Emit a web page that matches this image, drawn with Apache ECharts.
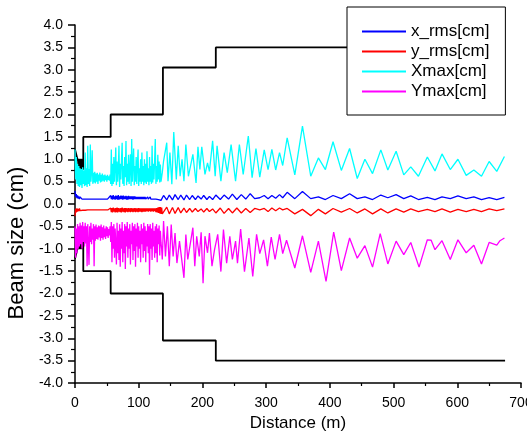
<!DOCTYPE html>
<html>
<head>
<meta charset="utf-8">
<script src="https://cdn.jsdelivr.net/npm/echarts@6/dist/echarts.min.js"></script>
<style>html,body{margin:0;padding:0;background:#fff;}#c{width:527px;height:438px;}</style>
</head>
<body>
<div id="c"></div>
<script>
// ---- data ----
const seriesNames = ['x_rms[cm]', 'y_rms[cm]', 'Xmax[cm]', 'Ymax[cm]'];
const xTicks = [0, 100, 200, 300, 400, 500, 600, 700];
const yTicks = [-4.0, -3.5, -3.0, -2.5, -2.0, -1.5, -1.0, -0.5, 0.0, 0.5, 1.0, 1.5, 2.0, 2.5, 3.0, 3.5, 4.0];

// sampling distances (m) of the densely oscillating first section
const denseDist = [0,1,2,3,4,5,6,7,8,9,10,11,12,13,14,15,16,17,18,19,20,21,22,23,24,25,26,27,28,29,
30,31,32,33,34,35,36,37,38,39,40,41,42,43,44,45,46,47,48,49,50,51,52,53,54,55,56,57,58,59,
60,61,62,63,64,65,66,67,68,69,70,71,72,73,74,75,76,77,78,79,80,81,82,83,84,85,86,87,88,89,
90,91,92,93,94,95,96,97,98,99,100,101,102,103,104,105,106,107,108,109,110,111,112,113,114,115,116,117,118,119,
120,121,122,123,124,125,126,127,128,129,130,131,132,133,134,135,136,137];

const xmaxDense = [1.22,0.55,1.05,0.45,0.9,0.4,0.85,0.38,0.8,0.42,
0.78,0.36,0.82,0.45,0.75,0.4,1.15,0.42,0.8,0.38,
1.3,0.45,0.78,0.4,1.33,0.5,0.72,1.2,0.45,0.7,
0.48,0.72,0.46,0.68,0.5,0.7,0.45,0.66,0.52,0.7,
0.48,0.65,0.5,0.68,0.52,0.64,0.5,0.66,0.53,0.63,
0.5,0.65,0.54,0.62,0.52,0.66,
0.45,1.22,0.4,0.9,0.45,1.05,0.5,0.85,1.26,0.42,
0.95,0.5,0.8,1.3,0.38,0.9,0.55,1.0,1.37,0.45,
0.85,0.4,1.05,0.6,1.41,0.42,0.9,0.5,1.1,0.45,
0.8,1.11,0.4,1.45,0.5,0.95,1.24,0.42,0.85,0.5,
1.05,0.45,0.9,1.22,0.4,0.8,0.5,1.0,0.45,1.15,
0.5,0.85,0.42,1.0,0.48,0.9,0.45,1.18,0.5,0.8,
0.42,1.05,0.5,0.85,0.45,1.3,0.48,0.9,0.55,1.0,
1.45,0.45,0.85,0.5,1.1,0.55,0.95,0.48,0.88,0.5,
0.47,0.7];

const ymaxDense = [-0.5,-1.2,-0.55,-1.1,-0.45,-1.0,-0.5,-0.95,-0.42,-0.9,
-0.48,-1.0,-0.4,-0.85,-0.5,-0.95,-0.42,-0.88,-0.5,-1.39,
-0.45,-0.9,-1.36,-0.5,-0.85,-0.42,-0.9,-0.55,-0.8,-0.45,
-1.39,-0.5,-0.82,-0.46,-0.78,-0.52,-0.8,-0.48,-0.75,-0.5,
-0.82,-0.46,-0.76,-0.52,-0.8,-0.48,-0.74,-0.55,-0.78,-0.5,
-0.72,-0.52,-0.76,-0.56,-0.7,-0.5,
-0.85,-0.4,-1.3,-0.5,-1.0,-0.45,-1.2,-0.55,-0.9,-1.35,
-0.42,-1.1,-0.6,-1.25,-0.45,-1.4,-0.55,-1.0,-0.4,-1.3,
-0.6,-1.1,-0.45,-1.45,-0.5,-0.95,-0.4,-1.2,-0.55,-1.0,
-0.45,-1.35,-0.6,-0.9,-0.42,-1.25,-0.5,-1.05,-0.45,-1.4,
-0.55,-0.95,-0.42,-1.2,-0.5,-1.0,-0.6,-1.3,-0.45,-0.9,
-0.55,-1.2,-0.42,-1.05,-0.5,-1.3,-0.6,-0.95,-0.45,-1.1,
-0.5,-1.58,-0.45,-1.0,-0.55,-1.25,-0.42,-0.95,-0.6,-1.2,
-0.5,-1.1,-0.45,-1.3,-0.55,-0.9,-0.48,-1.15,-0.6,-0.87,
-1.0,-1.24];

const xrmsDense = [0.29,0.16,0.22,0.13,0.19,0.12,0.17,0.11,0.16,0.12,
0.15,0.11,0.15,0.12,0.14,0.11,0.14,0.12,0.13,0.11,
0.14,0.12,0.13,0.11,0.13,0.12,0.13,0.11,0.12,0.11,
0.12,0.11,0.12,0.11,0.12,0.11,0.12,0.11,0.12,0.11,
0.12,0.11,0.12,0.11,0.12,0.11,0.12,0.11,0.12,0.11,
0.12,0.11,0.12,0.11,0.12,0.12,
0.19,0.11,0.18,0.1,0.2,0.11,0.17,0.1,0.19,0.11,
0.18,0.1,0.2,0.1,0.17,0.11,0.19,0.11,0.18,0.1,
0.19,0.11,0.17,0.11,0.18,0.1,0.17,0.1,0.18,0.11,
0.17,0.11,0.17,0.11,0.17,0.1,0.17,0.11,0.17,0.11,
0.16,0.11,0.16,0.11,0.16,0.11,0.16,0.11,0.16,0.11,
0.16,0.11,0.16,0.11,0.16,0.11,0.15,0.11,0.16,0.11,
0.15,0.11,0.16,0.11,0.15,0.11,0.15,0.11,0.15,0.11,
0.15,0.11,0.14,0.11,0.15,0.1,0.14,0.09,0.13,0.08,
0.12,0.07];

const yrmsDense = [-0.27,-0.11,-0.19,-0.1,-0.17,-0.11,-0.16,-0.1,-0.15,-0.11,
-0.15,-0.11,-0.14,-0.11,-0.14,-0.12,-0.14,-0.11,-0.14,-0.12,
-0.13,-0.12,-0.14,-0.12,-0.13,-0.12,-0.14,-0.12,-0.13,-0.12,
-0.14,-0.12,-0.13,-0.12,-0.14,-0.12,-0.13,-0.12,-0.14,-0.12,
-0.13,-0.12,-0.14,-0.12,-0.13,-0.12,-0.14,-0.12,-0.13,-0.12,
-0.14,-0.12,-0.13,-0.12,-0.14,-0.12,
-0.09,-0.18,-0.09,-0.19,-0.08,-0.17,-0.1,-0.19,-0.09,-0.18,
-0.08,-0.19,-0.09,-0.17,-0.1,-0.18,-0.09,-0.19,-0.08,-0.17,
-0.1,-0.18,-0.09,-0.19,-0.09,-0.17,-0.1,-0.18,-0.09,-0.17,
-0.1,-0.18,-0.09,-0.17,-0.1,-0.18,-0.1,-0.17,-0.09,-0.18,
-0.1,-0.17,-0.1,-0.18,-0.09,-0.17,-0.1,-0.17,-0.1,-0.18,
-0.1,-0.17,-0.1,-0.17,-0.1,-0.17,-0.1,-0.16,-0.1,-0.17,
-0.1,-0.16,-0.1,-0.17,-0.1,-0.16,-0.1,-0.17,-0.1,-0.16,
-0.1,-0.18,-0.09,-0.19,-0.08,-0.2,-0.07,-0.21,-0.07,-0.22,
-0.08,-0.22];

// [distance m, value cm] for the rest of the line
const xmaxTail = [[139,0.96],[144,1.37],[146,0.51],[149,1.15],[152,0.44],[155,1.61],[159,0.55],[162,1.30],[165,0.62],[168,1.0],
[171,0.51],[174,1.33],[178,0.62],[185,1.11],[190,0.47],[193,1.28],[196,0.77],[199,1.28],[204,0.66],[208,0.92],
[211,0.73],[216,1.41],[220,0.62],[223,1.30],[229,0.51],[234,1.15],[239,0.70],[245,1.33],[252,0.51],[258,1.33],
[264,0.66],[272,1.52],[278,0.59],[284,1.24],[290,0.60],[297,1.21],[303,0.77],[309,1.22],[315,0.76],[321,1.15],
[326,0.86],[333,1.48],[345,0.65],[357,1.74],[370,0.62],[382,1.03],[393,0.77],[405,1.39],[418,0.75],[431,1.24],
[443,0.57],[455,1.0],[467,0.68],[480,1.21],[491,0.76],[504,1.18],[516,0.65],[527,0.83],[539,0.62],[553,1.05],
[565,0.74],[576,1.12],[589,0.77],[601,1.0],[614,0.64],[626,0.76],[638,0.62],[650,0.95],[662,0.73],[674,1.06]];

const ymaxTail = [[139,-0.38],[142,-1.17],[145,-0.50],[148,-1.39],[151,-0.46],[154,-1.17],[157,-0.65],[160,-1.32],[164,-0.83],[171,-1.65],
[174,-0.68],[177,-1.24],[185,-0.53],[188,-1.39],[191,-0.72],[195,-1.17],[198,-0.63],[201,-1.77],[204,-0.72],[208,-1.09],
[211,-0.65],[215,-1.39],[219,-1.02],[224,-0.68],[229,-1.51],[233,-0.57],[238,-1.32],[243,-0.72],[247,-1.24],[252,-0.83],
[255,-1.32],[260,-0.56],[266,-1.51],[273,-0.76],[279,-1.62],[285,-0.68],[290,-1.11],[296,-0.80],[302,-1.39],[308,-0.74],
[314,-1.24],[321,-0.68],[326,-1.11],[332,-0.81],[345,-1.43],[357,-0.71],[370,-1.53],[382,-0.83],[394,-1.73],[406,-0.63],
[418,-1.49],[431,-0.76],[443,-1.21],[455,-0.93],[467,-1.41],[479,-0.66],[491,-1.34],[504,-0.83],[516,-1.13],[527,-0.86],
[540,-1.41],[553,-0.80],[559,-0.81],[565,-1.02],[576,-0.82],[589,-1.24],[601,-0.80],[614,-1.09],[626,-0.92],[638,-1.34],
[650,-0.86],[662,-0.92],[667,-0.82],[674,-0.76]];

const xrmsTail = [[139,0.19],[144,0.09],[148,0.2],[153,0.09],[157,0.21],[162,0.1],[166,0.2],[171,0.09],[175,0.2],[180,0.1],
[184,0.19],[189,0.1],[193,0.18],[198,0.11],[202,0.19],[207,0.1],[211,0.17],[216,0.1],[221,0.2],[228,0.1],
[234,0.2],[241,0.11],[247,0.22],[254,0.1],[261,0.21],[268,0.11],[275,0.23],[282,0.12],[290,0.14],[297,0.19],
[303,0.12],[309,0.19],[315,0.13],[321,0.21],[326,0.14],[333,0.26],[345,0.12],[357,0.28],[370,0.12],[382,0.16],
[393,0.1],[405,0.19],[418,0.12],[431,0.23],[443,0.12],[455,0.16],[467,0.1],[480,0.2],[491,0.14],[504,0.21],
[516,0.12],[527,0.18],[539,0.1],[553,0.15],[565,0.1],[576,0.16],[589,0.12],[601,0.18],[614,0.12],[626,0.16],
[638,0.1],[650,0.14],[662,0.1],[674,0.15]];

const yrmsTail = [[139,-0.22],[144,-0.07],[148,-0.22],[153,-0.08],[157,-0.21],[162,-0.08],[166,-0.2],[171,-0.09],[175,-0.19],[180,-0.1],
[184,-0.18],[189,-0.1],[193,-0.17],[198,-0.11],[202,-0.18],[207,-0.1],[211,-0.17],[216,-0.11],[221,-0.2],[228,-0.09],
[234,-0.21],[241,-0.1],[247,-0.2],[254,-0.09],[261,-0.2],[268,-0.1],[275,-0.19],[282,-0.1],[290,-0.13],[297,-0.1],
[303,-0.17],[309,-0.09],[315,-0.15],[321,-0.09],[326,-0.13],[333,-0.1],[345,-0.22],[357,-0.12],[370,-0.26],[382,-0.12],
[393,-0.22],[405,-0.1],[418,-0.18],[431,-0.1],[443,-0.2],[455,-0.11],[467,-0.22],[480,-0.11],[491,-0.2],[504,-0.11],
[516,-0.18],[527,-0.11],[539,-0.17],[553,-0.12],[565,-0.17],[576,-0.11],[589,-0.18],[601,-0.12],[614,-0.17],[626,-0.12],
[638,-0.17],[650,-0.11],[662,-0.15],[674,-0.11]];

// aperture (black stepped line)
const apertureUpper = [[0,1.22],[3.6,1.01],[13,0.77],[13,1.5],[56,1.5],[56,2.0],[138,2.0],[138,3.05],[221,3.05],[221,3.5],[675,3.5]];
const apertureLower = [[0,-1.22],[3.6,-1.01],[13,-0.77],[13,-1.5],[56,-1.5],[56,-2.0],[138,-2.0],[138,-3.05],[221,-3.05],[221,-3.5],[675,-3.5]];
// filled black blocks: [x0, x1, y0, y1]
const apertureBlocks = [[3.6,13,0.77,1.01],[3.6,13,-1.01,-0.77]];

// ---- chart ----
const FONT = '"Liberation Sans", Arial, sans-serif';
function join(dense, tail) {
  return denseDist.map((d, i) => [d, dense[i]]).concat(tail);
}
const chart = echarts.init(document.getElementById('c'), null, {renderer: 'canvas'});
const lineBase = {type: 'line', showSymbol: false, symbol: 'none', silent: true, lineStyle: {width: 1.3}};
const option = {
  animation: false,
  backgroundColor: '#fff',
  textStyle: {fontFamily: FONT},
  grid: {left: 75, right: 6, top: 25, bottom: 55, containLabel: false, outerBoundsMode: 'none'},
  legend: {
    orient: 'vertical', left: 347, top: 7,
    backgroundColor: '#fff', borderColor: '#000', borderWidth: 1, borderRadius: 0,
    padding: [16, 16, 15, 15],
    itemWidth: 44, itemHeight: 2, itemGap: 3, icon: 'rect',
    textStyle: {fontSize: 17, color: '#000', fontFamily: FONT},
    data: seriesNames
  },
  xAxis: {
    type: 'value', min: xTicks[0], max: xTicks[xTicks.length - 1], interval: 100,
    name: 'Distance (m)', nameLocation: 'middle', nameGap: 28,
    nameTextStyle: {fontSize: 17, color: '#000', fontFamily: FONT},
    axisLine: {onZero: false, lineStyle: {color: '#000', width: 1.5}},
    axisTick: {length: 5, lineStyle: {color: '#000', width: 1.5}},
    minorTick: {show: true, splitNumber: 2, length: 3, lineStyle: {color: '#000', width: 1.2}},
    axisLabel: {fontSize: 14, color: '#000', margin: 13, fontFamily: FONT},
    splitLine: {show: false}
  },
  yAxis: {
    type: 'value', min: yTicks[0], max: yTicks[yTicks.length - 1], interval: 0.5,
    name: 'Beam size (cm)', nameLocation: 'middle', nameGap: 41,
    nameTextStyle: {fontSize: 22, color: '#000', fontFamily: FONT, padding: [0, 78, 0, 0]},
    axisLine: {onZero: false, lineStyle: {color: '#000', width: 1.5}},
    axisTick: {length: 7, lineStyle: {color: '#000', width: 1.5}},
    minorTick: {show: true, splitNumber: 2, length: 4, lineStyle: {color: '#000', width: 1.2}},
    axisLabel: {fontSize: 14, color: '#000', margin: 12, fontFamily: FONT, formatter: v => v.toFixed(1)},
    splitLine: {show: false}
  },
  series: [
    Object.assign({}, lineBase, {name: 'aperture+', data: apertureUpper, color: '#000', lineStyle: {width: 1.8, color: '#000'}}),
    Object.assign({}, lineBase, {name: 'aperture-', data: apertureLower, color: '#000', lineStyle: {width: 1.8, color: '#000'}}),
    {
      type: 'custom', name: 'blocks', silent: true, data: apertureBlocks,
      encode: {x: [0, 1], y: [2, 3]},
      renderItem: function (params, api) {
        const p0 = api.coord([api.value(0), api.value(3)]);
        const p1 = api.coord([api.value(1), api.value(2)]);
        return {type: 'rect', shape: {x: p0[0], y: p0[1], width: p1[0] - p0[0], height: p1[1] - p0[1]}, style: {fill: '#000'}};
      }
    },
    Object.assign({}, lineBase, {name: seriesNames[2], data: join(xmaxDense, xmaxTail), color: '#00FFFF', lineStyle: {width: 1.3, color: '#00FFFF'}}),
    Object.assign({}, lineBase, {name: seriesNames[3], data: join(ymaxDense, ymaxTail), color: '#FF00FF', lineStyle: {width: 1.3, color: '#FF00FF'}}),
    Object.assign({}, lineBase, {name: seriesNames[0], data: join(xrmsDense, xrmsTail), color: '#0000FF', lineStyle: {width: 1.3, color: '#0000FF'}}),
    Object.assign({}, lineBase, {name: seriesNames[1], data: join(yrmsDense, yrmsTail), color: '#FF0000', lineStyle: {width: 1.3, color: '#FF0000'}})
  ]
};
chart.setOption(option);
</script>
</body>
</html>
